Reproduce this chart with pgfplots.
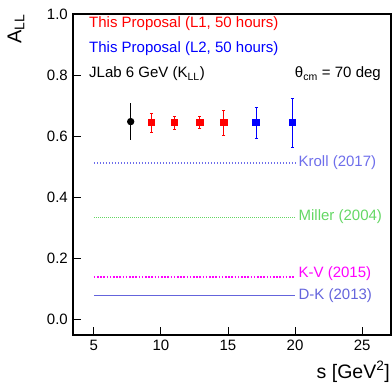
\documentclass[border=0pt]{standalone}
\usepackage{fontspec}
\setmainfont{Liberation Sans}
\usepackage{pgfplots}
\pgfplotsset{compat=1.18}
\definecolor{krollc}{RGB}{110,110,235}
\definecolor{millerc}{RGB}{100,215,100}
\definecolor{kvc}{RGB}{255,0,255}
\definecolor{dkc}{RGB}{100,100,220}
\begin{document}
\fontsize{15}{18}\selectfont
\begin{tikzpicture}
\useasboundingbox (0,0) rectangle (392pt,384pt);
\begin{axis}[
  at={(73pt,49pt)}, anchor=south west,
  scale only axis, width=318pt, height=321pt,
  xmin=3.45, xmax=27.15, ymin=-0.05, ymax=1.0,
  xtick={5,10,15,20,25},
  ytick={0,0.2,0.4,0.6,0.8,1.0},
  tick align=inside, xtick pos=bottom, ytick pos=left,
  major tick length=8pt,
  axis line style={line width=1.2pt},
  tick style={line width=0.8pt, black},
  yticklabel style={/pgf/number format/.cd, fixed, fixed zerofill, precision=1},
  /pgf/number format/assume math mode=true,
  tick label style={font=\fontsize{15}{18}\selectfont},
  clip=false,
]
% theory curves
\addplot[krollc, line width=1.3pt, dash pattern=on 1.5pt off 1.5pt] coordinates {(5,0.513) (20,0.513)};
\addplot[millerc, line width=0.8pt, dash pattern=on 1pt off 1pt] coordinates {(5,0.336) (20,0.336)};
\addplot[kvc, line width=1.6pt, dash pattern=on 1.6pt off 1.6pt] coordinates {(5,0.14) (20,0.14)};
\addplot[dkc, line width=1.3pt] coordinates {(5,0.08) (20,0.08)};
% JLab 6 GeV
\addplot[black, only marks, mark=*, mark size=3.2pt, line width=0.9pt,
  error bars/.cd, y dir=both, y explicit,
  error bar style={line width=0.9pt, black}, error mark=none]
  coordinates {(7.75,0.648) +- (0,0.06)};
% L1
\addplot[red, only marks, mark=square*, mark size=3.3pt, line width=0.9pt,
  error bars/.cd, y dir=both, y explicit,
  error bar style={line width=0.9pt, red},
  error mark options={rotate=90, mark size=1.5pt, red}]
  coordinates {(9.3,0.645) +- (0,0.03) (11.0,0.645) +- (0,0.022) (12.9,0.645) +- (0,0.02) (14.7,0.645) +- (0,0.04)};
% L2
\addplot[blue, only marks, mark=square*, mark size=3.3pt, line width=0.9pt,
  error bars/.cd, y dir=both, y explicit,
  error bar style={line width=0.9pt, blue},
  error mark options={rotate=90, mark size=1.5pt, blue}]
  coordinates {(17.1,0.645) +- (0,0.05) (19.8,0.645) +- (0,0.08)};
% labels
\node[anchor=west, text=krollc, inner sep=0pt] at (axis cs:20.25,0.513) {Kroll (2017)};
\node[anchor=west, text=millerc, inner sep=0pt] at (axis cs:20.25,0.336) {Miller (2004)};
\node[anchor=west, text=kvc, inner sep=0pt] at (axis cs:20.25,0.15) {K-V (2015)};
\node[anchor=west, text=dkc, inner sep=0pt] at (axis cs:20.25,0.08) {D-K (2013)};
\end{axis}
\node[anchor=west, text=red, inner sep=0pt] at (89pt,360pt) {This Proposal (L1, 50 hours)};
\node[anchor=west, text=blue, inner sep=0pt] at (89pt,335pt) {This Proposal (L2, 50 hours)};
\node[anchor=west, inner sep=0pt] at (89pt,310pt) {JLab 6 GeV (K\textsubscript{LL})};
\node[anchor=east, inner sep=0pt] at (381pt,310pt) {θ\textsubscript{cm} = 70 deg};
\node[rotate=90, inner sep=0pt, font=\fontsize{20}{22}\selectfont] at (16pt,355pt) {A\textsubscript{LL}};
\node[anchor=east, inner sep=0pt, font=\fontsize{19.5}{22}\selectfont] at (390pt,12pt) {s [GeV\textsuperscript{2}]};
\end{tikzpicture}
\end{document}
